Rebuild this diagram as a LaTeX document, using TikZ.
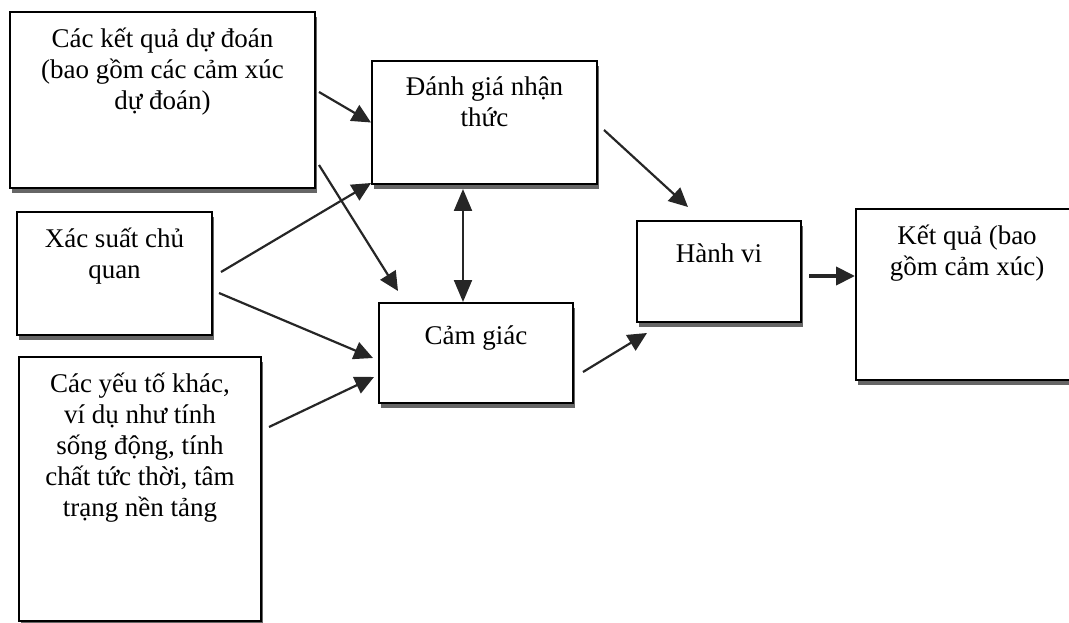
\documentclass[tikz,border=0pt]{standalone}
\usepackage{fontspec}
\setmainfont{Liberation Serif}
\usepackage{tikz}
\usetikzlibrary{arrows.meta,shadows}

\begin{document}
\begin{tikzpicture}[
    x=1pt, y=-1pt,
    box/.style={
        draw, line width=2pt, fill=white, inner sep=0pt,
        drop shadow={shadow xshift=1.5pt, shadow yshift=-5pt, fill=black!60, opacity=1}
    },
    txt/.style={
        anchor=north, align=center, inner sep=0pt, yshift=-17pt,
        execute at begin node={\rule{0pt}{25pt}},
        font=\fontsize{27}{31}\selectfont
    },
    arr/.style={
        draw=black!85, line width=2.2pt,
        -{Triangle[length=19pt, width=18pt]}
    }
]
    \useasboundingbox (0,0) rectangle (1069,623);
    \node[box, minimum width=305, minimum height=176,
        label={[txt]north:{Các kết quả dự đoán\\(bao gồm các cảm xúc\\dự đoán)}}]
        (dudoan) at (162.5,100) {};
    \node[box, minimum width=195, minimum height=123,
        label={[txt]north:{Xác suất chủ\\quan}}]
        (xacsuat) at (114.5,273.5) {};
    \node[box, minimum width=242, minimum height=264,
        label={[txt]north:{Các yếu tố khác,\\ví dụ như tính\\sống động, tính\\chất tức thời, tâm\\trạng nền tảng}}]
        (yeuto) at (140,489) {};
    \node[box, minimum width=225, minimum height=123,
        label={[txt]north:{Đánh giá nhận\\thức}}]
        (danhgia) at (484.5,122.5) {};
    \node[box, minimum width=194, minimum height=100,
        label={[txt]north:{Cảm giác}}]
        (camgiac) at (476,353) {};
    \node[box, minimum width=164, minimum height=101,
        label={[txt]north:{Hành vi}}]
        (hanhvi) at (719,271.5) {};
    \node[box, minimum width=222, minimum height=171,
        label={[txt]north:{Kết quả (bao\\gồm cảm xúc)}}]
        (ketqua) at (967,294.5) {};

    \draw[arr] ([shift={(3,-8)}]dudoan.east) -- (danhgia.west);
    \draw[arr] ([shift={(3,65)}]dudoan.east) -- ([shift={(20,-11)}]camgiac.north west);
    \draw[arr] ([shift={(8,-1.5)}]xacsuat.east) -- ([shift={(0,-2)}]danhgia.south west);
    \draw[arr] ([shift={(6,19.5)}]xacsuat.east) -- ([shift={(-5,5)}]camgiac.west);
    \draw[arr] ([shift={(7,71)}]yeuto.north east) -- ([shift={(-4,24)}]camgiac.west);
    \draw[arr, {Triangle[length=22pt, width=18pt]}-{Triangle[length=22pt, width=18pt]}]
        ([shift={(-21.5,4)}]danhgia.south) -- ([shift={(-13,0)}]camgiac.north);
    \draw[arr] ([shift={(6,7.5)}]danhgia.east) -- ([shift={(-31,-13)}]hanhvi.north);
    \draw[arr] ([shift={(9,19)}]camgiac.east) -- ([shift={(11,10)}]hanhvi.south west);
    \draw[arr, line width=4pt] ([shift={(7,4.5)}]hanhvi.east) -- ([shift={(0,-18.5)}]ketqua.west);
\end{tikzpicture}
\end{document}
